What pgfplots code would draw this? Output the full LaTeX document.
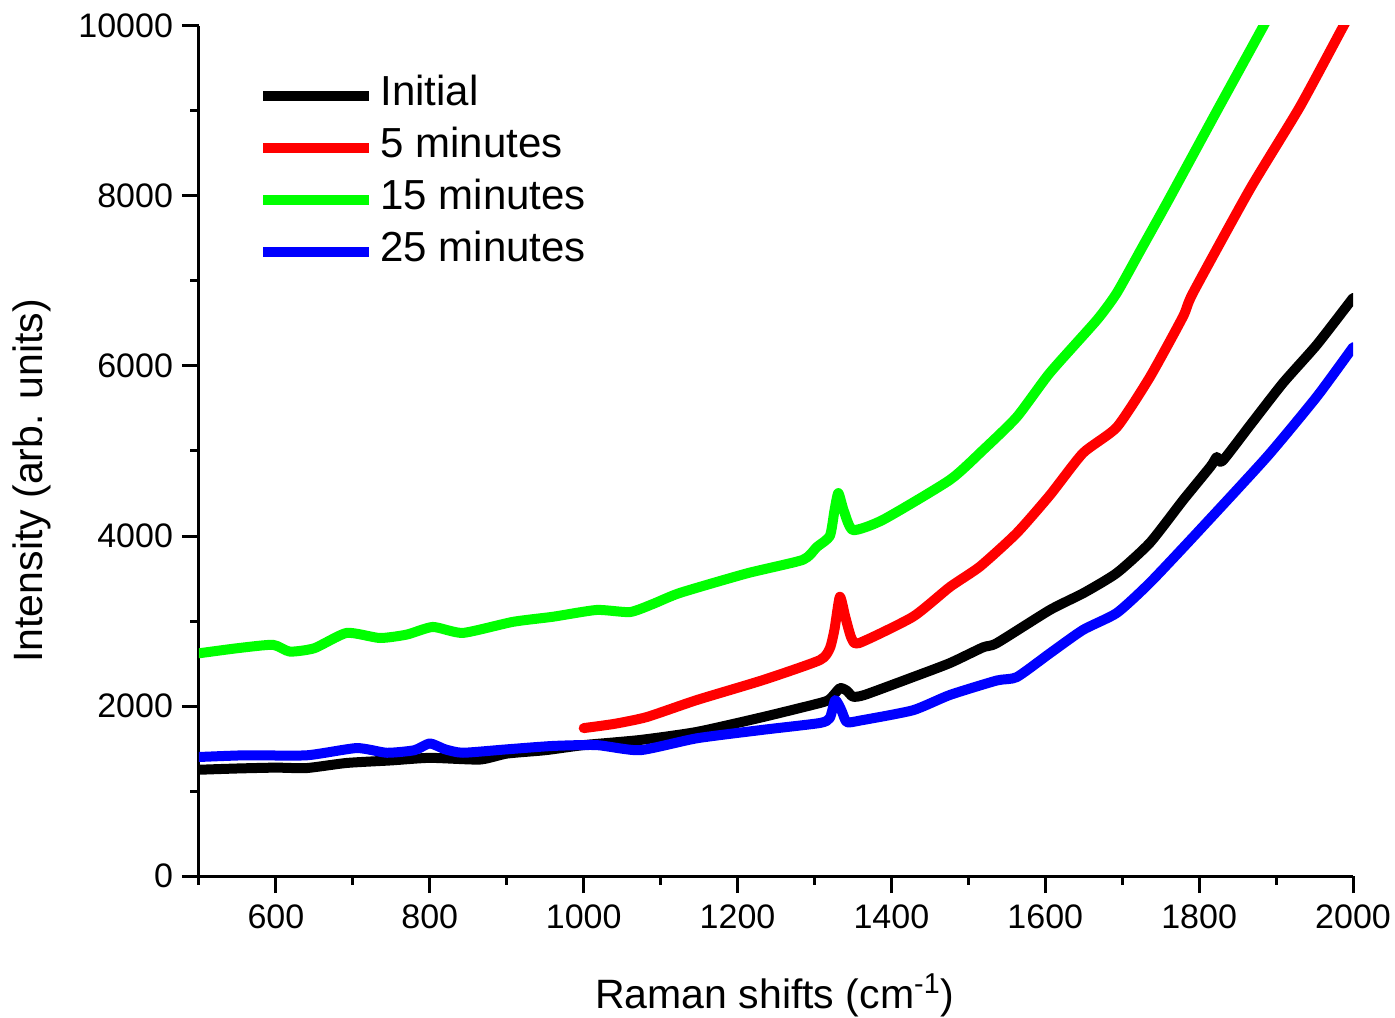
\documentclass[border=0pt]{standalone}
\usepackage{fontspec}
\setmainfont{Liberation Sans}
\usepackage{pgfplots}
\pgfplotsset{compat=1.18}

\begin{document}
\begin{tikzpicture}
\path[use as bounding box] (-99.5pt,-70.5pt) rectangle (598pt,438pt);
\begin{axis}[
    scale only axis,
    width=577pt, height=425pt,
    xmin=500, xmax=2000,
    ymin=0, ymax=10000,
    axis lines*=left,
    axis line style={line width=1.5pt},
    tick align=outside,
    major tick length=8.5pt,
    minor tick length=4.25pt,
    every tick/.style={black, line width=1.5pt},
    xtick={600,800,...,2000},
    minor xtick={500,700,...,1900},
    ytick={0,2000,...,10000},
    minor ytick={1000,3000,...,9000},
    scaled ticks=false,
    /pgf/number format/assume math mode=true,
    /pgf/number format/set thousands separator={},
    tick label style={font=\fontsize{17}{20}\selectfont},
    xticklabel style={yshift=-2.5pt},
    yticklabel style={xshift=-1pt},
    xlabel={Raman shifts (cm\textsuperscript{-1})},
    ylabel={Intensity (arb. units)},
    label style={font=\fontsize{20.5}{24}\selectfont},
    xlabel style={at={(axis description cs:0.499,-0.14)}, anchor=center},
    ylabel style={at={(axis description cs:-0.1447,0.465)}, anchor=center, rotate=0},
    legend cell align=left,
    legend style={
        at={(axis description cs:0.0511,0.941)}, anchor=north west,
        draw=none, fill=none, inner sep=0pt,
        font=\fontsize{21}{25}\selectfont,
        row sep=7pt,
        nodes={inner sep=0pt, text height=14.5pt, text depth=4.5pt},
        /tikz/column 1/.style={column sep=3pt},
    },
    legend image code/.code={\draw[#1, line width=5pt, line cap=butt] (0pt,0pt) -- (53pt,0pt);},
    every axis plot/.append style={line width=5pt, line join=round, line cap=round, smooth, tension=0.35},
]
% Initial
\addplot[black] coordinates {
(500,1250) (550,1265) (600,1275) (640,1270) (692,1330) (750,1360)
(800,1390) (865,1370) (900,1440) (950,1480) (1000,1540) (1073,1600)
(1147,1695) (1233,1870) (1307,2035) (1320,2080) (1333,2210) (1342,2180)
(1350,2110) (1365,2130) (1428,2340) (1476,2505) (1519,2690) (1537,2740)
(1606,3130) (1650,3330) (1693,3565) (1736,3920) (1779,4420) (1815,4820)
(1823,4930) (1830,4880) (1866,5300) (1909,5800) (1953,6250) (2000,6800)
};
% 5 minutes
\addplot[red] coordinates {
(1000,1740) (1040,1790) (1082,1870) (1147,2070) (1233,2305) (1307,2540)
(1320,2680) (1326,2900) (1333,3285) (1340,3050) (1348,2800) (1358,2740)
(1428,3050) (1476,3400) (1515,3640) (1563,4035) (1606,4480) (1649,4975)
(1693,5280) (1736,5870) (1779,6580) (1792,6860) (1866,8080) (1931,9050)
(1987,9990) (2000,10200)
};
% 15 minutes
\addplot[green] coordinates {
(500,2620) (550,2680) (596,2720) (618,2640) (650,2680) (692,2860)
(735,2800) (770,2840) (804,2930) (843,2860) (908,2990) (960,3050)
(1017,3130) (1060,3105) (1090,3200) (1125,3330) (1212,3560) (1285,3720)
(1303,3870) (1320,4000) (1326,4300) (1331,4505) (1338,4300) (1350,4070)
(1389,4190) (1476,4660) (1519,5010) (1563,5400) (1606,5920) (1667,6540)
(1693,6860) (1725,7380) (1760,7950) (1823,9000) (1883,9990) (1895,10200)
};
% 25 minutes
\addplot[blue] coordinates {
(500,1400) (560,1420) (640,1420) (705,1505) (744,1450) (780,1480)
(800,1560) (820,1490) (843,1450) (900,1490) (960,1530) (1017,1540)
(1073,1480) (1147,1620) (1233,1720) (1307,1800) (1320,1860) (1327,2070)
(1335,1950) (1342,1810) (1360,1830) (1428,1950) (1476,2130) (1537,2300)
(1563,2340) (1606,2620) (1649,2895) (1693,3095) (1736,3450) (1797,4035)
(1888,4930) (1953,5640) (2000,6220)
};
\legend{Initial, 5 minutes, 15 minutes, 25 minutes}
\end{axis}
\end{tikzpicture}
\end{document}
